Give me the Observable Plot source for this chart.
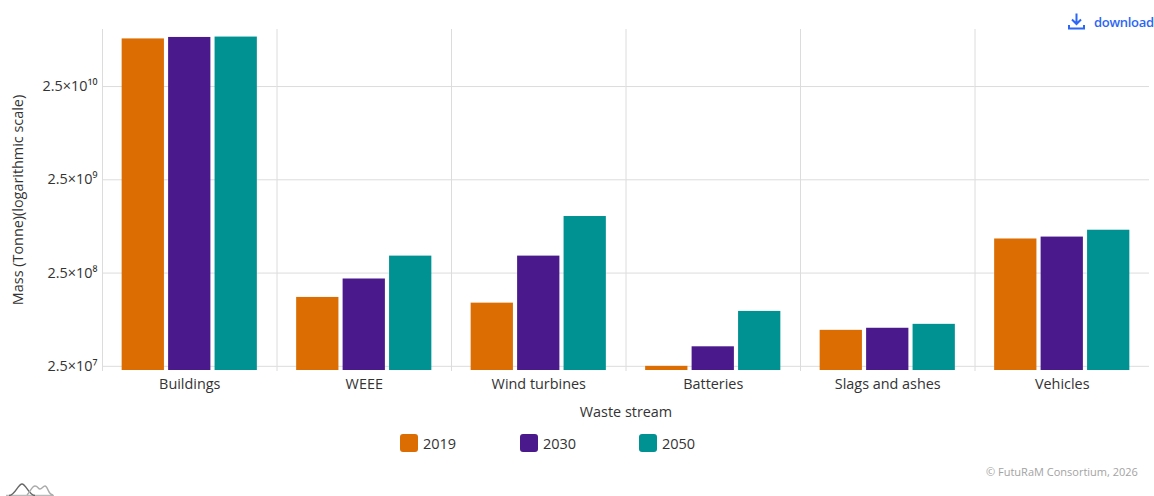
<!DOCTYPE html>
<html>
<head>
<meta charset="utf-8">
<script src="https://cdn.jsdelivr.net/npm/d3@7"></script>
<script src="https://cdn.jsdelivr.net/npm/@observablehq/plot@0.6"></script>
<style>
html,body{margin:0;padding:0;background:#fff;}
body{width:1154px;height:496px;position:relative;overflow:hidden;font-family:"Open Sans",sans-serif;color:#333;}
#chart{position:absolute;left:0;top:0;}
#download{position:absolute;left:1067px;top:12px;display:flex;align-items:center;color:#2b66f6;font-weight:600;font-size:13px;letter-spacing:-.3px;}
#download svg{margin-right:8px;}
.sw{position:absolute;top:434px;width:18px;height:18px;border-radius:3px;}
.lt{position:absolute;top:434px;font-size:14.5px;line-height:19px;color:#333;}
#copy{position:absolute;left:986px;top:464px;font-size:11px;line-height:16px;color:#a3a3a3;}
#logo{position:absolute;left:5px;top:482px;}
</style>
</head>
<body>
<div id="chart"></div>
<div id="download"><svg width="19" height="19" viewBox="0 0 19 19" fill="none" stroke="#2b66f6" stroke-width="2"><path d="M9.5 1.5V12M5 7.5l4.5 4.5L14 7.5M2 13v3.5h15V13"/></svg><span>download</span></div>
<div id="legend"></div>
<div id="copy">© FutuRaM Consortium, 2026</div>
<svg id="logo" width="52" height="14" viewBox="0 0 52 14" fill="none" stroke-width="1.4">
<path d="M1 13.5h48" stroke="#bbb"/>
<path d="M4 13.5c6 0 9-11.5 13-11.5s7 11.5 13 11.5" stroke="#666"/>
<path d="M22 13c3-3 5-9 8-9 3 0 3 3 5 3s3-3 5-3c3 0 3 9 8 9" stroke="#aaa"/>
</svg>
<script>
const categories = ["Buildings","WEEE","Wind turbines","Batteries","Slags and ashes","Vehicles"];
const years = ["2019","2030","2050"];
const values2019 = [8.1e10,1.37e8,1.19e8,2.5e7,6.08e7,5.8e8];
const values2030 = [8.4e10,2.16e8,3.8e8,4.05e7,6.4e7,6.08e8];
const values2050 = [8.48e10,3.8e8,1.01e9,9.7e7,7.05e7,7.2e8];
const colors = ["#dc6d02","#4a1a8c","#009292"];
const tickValues = [2.5e7,2.5e8,2.5e9,2.5e10];
const tickLabels = ["2.5×10⁷","2.5×10⁸","2.5×10⁹","2.5×10¹⁰"];
const yDomain = [2.256e7,1.022e11];

const series = [values2019,values2030,values2050];
const rows = categories.flatMap((c,i)=>years.map((y,j)=>({stream:c,year:y,value:series[j][i]})));

const plot = Plot.plot({
  width:1154,height:420,
  marginTop:29,marginBottom:50,marginLeft:102,marginRight:5,
  style:{fontFamily:'"Open Sans",sans-serif',fontSize:"14.4px",color:"#333",background:"transparent"},
  fx:{domain:categories,padding:0,label:null,round:false},
  x:{domain:years,paddingInner:0.09,paddingOuter:0.423,axis:null,round:false},
  y:{type:"log",domain:yDomain,label:null},
  color:{domain:years,range:colors},
  marks:[
    Plot.gridY(tickValues,{stroke:"#dcdcdc",strokeOpacity:1}),
    Plot.frame({anchor:"left",stroke:"#dcdcdc"}),
    Plot.barY(rows,{fx:"stream",x:"year",y1:()=>yDomain[0],y2:"value",fill:"year"}),
    Plot.axisY({ticks:tickValues,tickFormat:d=>tickLabels[tickValues.indexOf(d)],tickSize:0,tickPadding:5,
      label:"Mass (Tonne)(logarithmic scale)",labelAnchor:"center",labelArrow:"none",labelOffset:90,fontSize:14.4}),
    Plot.axisFx({anchor:"bottom",tickSize:0,tickPadding:8,label:"Waste stream",labelAnchor:"center",labelArrow:"none",labelOffset:46,fontSize:14.4})
  ]
});
document.getElementById("chart").append(plot);

const legend = document.getElementById("legend");
const swatchX = [400,520,639];
years.forEach((y,i)=>{
  const s=document.createElement("div");s.className="sw";s.style.left=swatchX[i]+"px";s.style.background=colors[i];legend.append(s);
  const t=document.createElement("div");t.className="lt";t.style.left=(swatchX[i]+23)+"px";t.textContent=y;legend.append(t);
});
</script>
</body>
</html>
